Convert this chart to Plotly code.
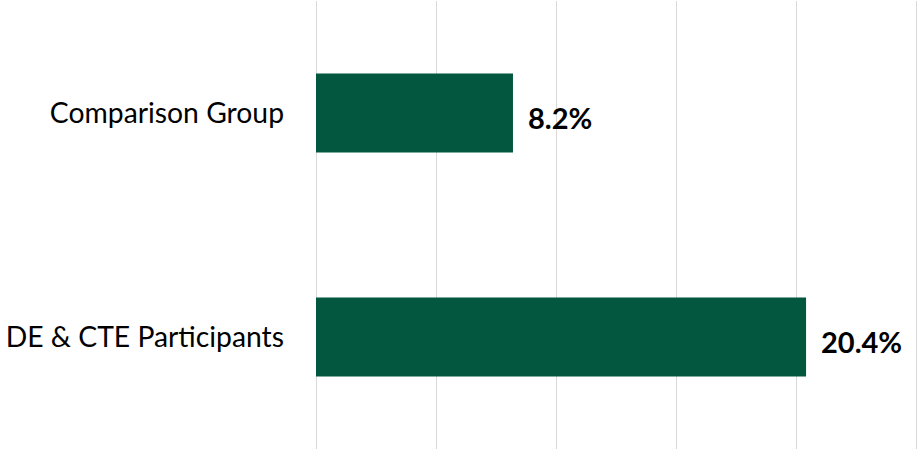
import plotly.graph_objects as go

categories = ["DE & CTE Participants", "Comparison Group"]
values = [20.4, 8.2]
x_ticks = [0, 5, 10, 15, 20, 25]

FONT = "Lato"
fig = go.Figure()
fig.add_trace(go.Bar(
    x=values, y=categories, orientation="h",
    marker=dict(color="#03573F", line=dict(width=0)),
    width=0.353, hoverinfo="skip",
))
for v, c in zip(values, categories):
    fig.add_annotation(x=v, y=c, text=f"<b>{v:.1f}%</b>", showarrow=False,
                       xanchor="left", xshift=13, yshift=-4,
                       font=dict(family=FONT, size=29, color="#000000"))

fig.update_layout(
    width=918, height=451,
    margin=dict(l=316, r=0, t=1, b=2),
    paper_bgcolor="white", plot_bgcolor="white",
    showlegend=False,
    font=dict(family=FONT, size=28.3, color="#000000"),
    xaxis=dict(range=[0, 25.06], tickvals=x_ticks, showticklabels=False,
               showgrid=True, gridcolor="#D9D9D9", gridwidth=1,
               zeroline=True, zerolinecolor="#D9D9D9", zerolinewidth=1,
               showline=False, ticks=""),
    yaxis=dict(range=[-0.5, 1.5], showgrid=False, zeroline=False,
               showline=False, ticks="", ticklabelstandoff=31,
               tickfont=dict(family=FONT, size=28.3, color="#000000")),
)
fig.write_html("out.html", config={"displayModeBar": False},
               post_script="document.body.style.margin='0';document.body.style.padding='0';")
